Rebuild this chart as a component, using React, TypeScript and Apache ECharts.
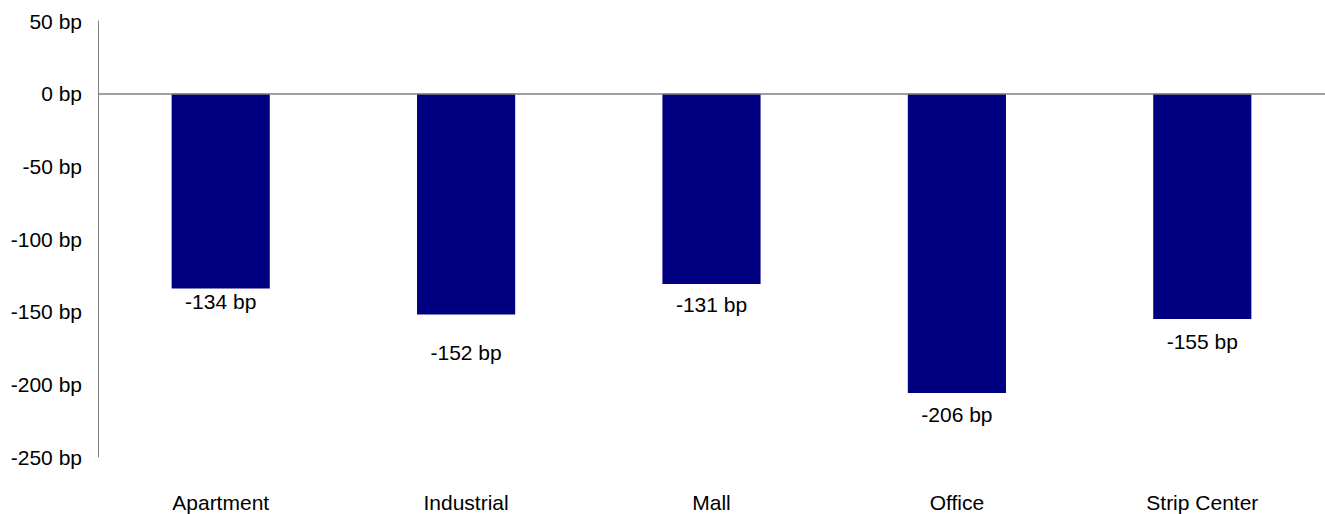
import React, { useEffect, useRef } from "react";
import * as echarts from "echarts";

const categories = ["Apartment", "Industrial", "Mall", "Office", "Strip Center"];
const values = [-134, -152, -131, -206, -155];
const yTicks = { min: -250, max: 50, interval: 50 };
// per-bar label gap below the bar end (manual placement in the original)
const labelGaps = [3, 27, 10, 11, 12];

export default function App() {
  const ref = useRef<HTMLDivElement>(null);
  useEffect(() => {
    document.body.style.margin = "0";
    const chart = echarts.init(ref.current!, null, { renderer: "svg" });
    const font = "Arial, 'Liberation Sans', sans-serif";
    chart.setOption({
      animation: false,
      grid: { left: 98, top: 21, right: -2, bottom: 57, containLabel: false },
      xAxis: {
        type: "category",
        data: categories,
        position: "bottom",
        axisLine: { show: false, onZero: false },
        axisTick: { show: false },
        axisLabel: { color: "#000", fontSize: 21, fontFamily: font, margin: 35 },
        splitLine: { show: false },
      },
      yAxis: {
        type: "value",
        min: yTicks.min,
        max: yTicks.max,
        interval: yTicks.interval,
        axisLine: { show: true, lineStyle: { color: "#808080", width: 1 } },
        axisTick: { show: false },
        splitLine: { show: false },
        axisLabel: {
          color: "#000",
          fontSize: 21,
          fontFamily: font,
          margin: 16,
          formatter: (v: number) => `${v} bp`,
        },
      },
      series: [
        {
          type: "bar",
          data: values.map((v, i) => ({
            value: v,
            label: { distance: labelGaps[i] },
          })),
          barWidth: "40%",
          itemStyle: { color: "#000080" },
          label: {
            show: true,
            position: "bottom",
            color: "#000",
            fontSize: 21,
            fontFamily: font,
            formatter: (p: any) => `${p.value} bp`,
          },
          markLine: {
            silent: true,
            symbol: "none",
            label: { show: false },
            lineStyle: { color: "#808080", width: 1.5, type: "solid" },
            data: [{ yAxis: 0 }],
          },
        },
      ],
    });
    return () => chart.dispose();
  }, []);
  return <div ref={ref} style={{ width: 1325, height: 514 }} />;
}
